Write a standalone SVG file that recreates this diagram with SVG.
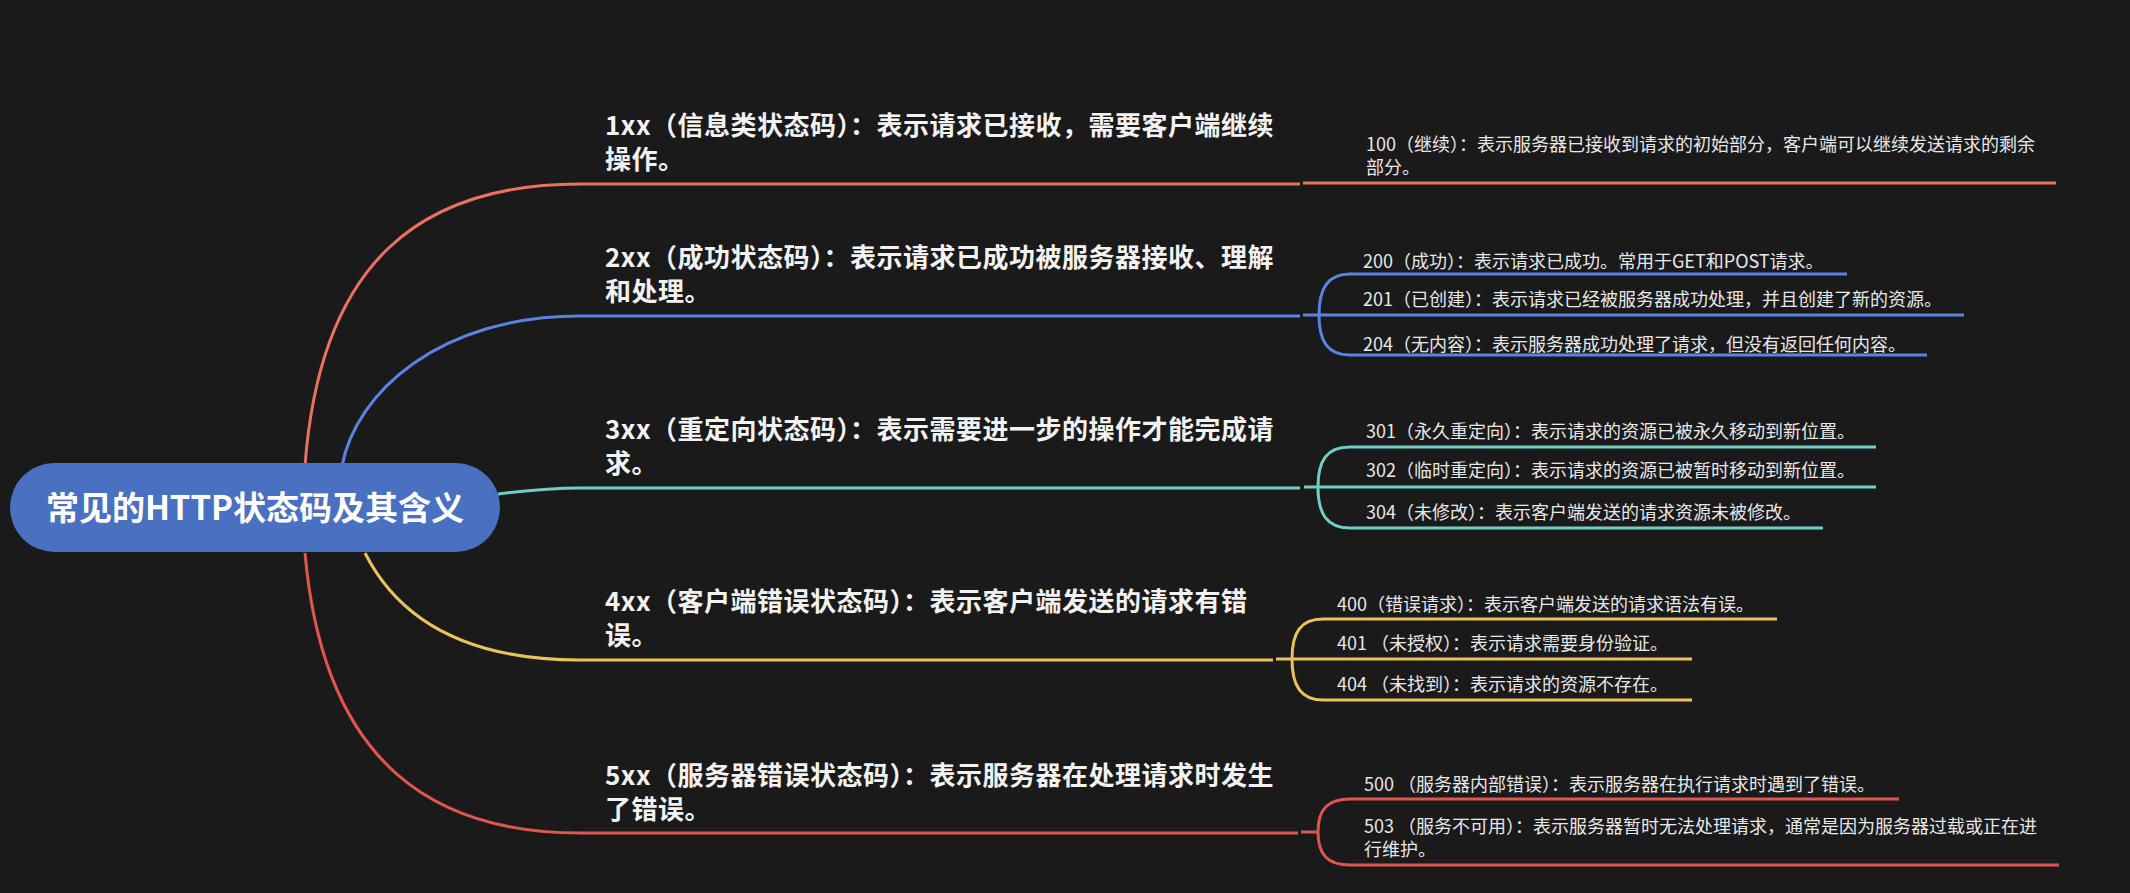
<svg xmlns="http://www.w3.org/2000/svg" width="2130" height="893" viewBox="0 0 2130 893">
<style>
  .bg{fill:#1a1a1a}
  .root-box{fill:#4a70c2}
  .root-t{font-family:"Noto Sans CJK SC","Noto Sans",sans-serif;font-size:33px;font-weight:700;fill:#ffffff}
  .p-t{font-family:"Noto Sans CJK SC","Noto Sans",sans-serif;font-size:26px;font-weight:700;fill:#f2f2f2;letter-spacing:0.5px}
  .c-t{font-family:"Noto Sans CJK SC","Noto Sans",sans-serif;font-size:18px;font-weight:400;fill:#e8e8e8}
  .ln{fill:none;stroke-width:3;stroke-linecap:butt}
  .c1{stroke:#e8735f}
  .c2{stroke:#5b83e3}
  .c3{stroke:#6fcfc5}
  .c4{stroke:#eac35a}
  .c5{stroke:#e0564f}
</style>
<rect class="bg" x="0" y="0" width="2130" height="893"/>
<g id="connectors">
  <path class="ln c1" d="M305,466 C320,262 420,184 580,184 L1300,184"/>
  <path class="ln c2" d="M342,466 C356,392 440,316 580,316 L1300,316"/>
  <path class="ln c3" d="M498,494 C530,490 550,488 580,488 L1300,488"/>
  <path class="ln c4" d="M365,553 C400,622 470,660 580,660 L1273,660"/>
  <path class="ln c5" d="M305,553 C324,770 440,833 580,833 L1298,833"/>

  <path class="ln c1" d="M1303,183 L2056,183"/>

  <path class="ln c2" d="M1319,315 C1319,288 1328,274 1350,274 L1847,274"/>
  <path class="ln c2" d="M1303,315 L1964,315"/>
  <path class="ln c2" d="M1319,315 C1319,342 1328,355 1350,355 L1927,355"/>

  <path class="ln c3" d="M1318,487 C1318,460 1327,447 1350,447 L1876,447"/>
  <path class="ln c3" d="M1304,487 L1876,487"/>
  <path class="ln c3" d="M1318,487 C1318,514 1327,528 1350,528 L1823,528"/>

  <path class="ln c4" d="M1292,659 C1292,632 1301,619 1323,619 L1777,619"/>
  <path class="ln c4" d="M1276,659 L1692,659"/>
  <path class="ln c4" d="M1292,659 C1292,686 1301,700 1323,700 L1692,700"/>

  <path class="ln c5" d="M1301,832 L1318,832"/>
  <path class="ln c5" d="M1318,832 C1318,810 1327,799 1350,799 L1899,799"/>
  <path class="ln c5" d="M1318,832 C1318,854 1327,865 1350,865 L2059,865"/>
</g>
<g id="root">
  <rect class="root-box" x="10" y="463" width="490" height="89" rx="44.5"/>
  <text class="root-t" x="255" y="520" text-anchor="middle">常见的HTTP状态码及其含义</text>
</g>
<g id="n1xx">
  <text class="p-t" x="605" y="135">1xx（信息类状态码）：表示请求已接收，需要客户端继续<tspan x="605" dy="34">操作。</tspan></text>
</g>
<g id="n2xx">
  <text class="p-t" x="605" y="267">2xx（成功状态码）：表示请求已成功被服务器接收、理解<tspan x="605" dy="34">和处理。</tspan></text>
</g>
<g id="n3xx">
  <text class="p-t" x="605" y="439">3xx（重定向状态码）：表示需要进一步的操作才能完成请<tspan x="605" dy="34">求。</tspan></text>
</g>
<g id="n4xx">
  <text class="p-t" x="605" y="611">4xx（客户端错误状态码）：表示客户端发送的请求有错<tspan x="605" dy="34">误。</tspan></text>
</g>
<g id="n5xx">
  <text class="p-t" x="605" y="785">5xx（服务器错误状态码）：表示服务器在处理请求时发生<tspan x="605" dy="34">了错误。</tspan></text>
</g>
<g id="n100">
  <text class="c-t" x="1366" y="151">100（继续）：表示服务器已接收到请求的初始部分，客户端可以继续发送请求的剩余<tspan x="1366" dy="23">部分。</tspan></text>
</g>
<g id="n200"><text class="c-t" x="1363" y="268">200（成功）：表示请求已成功。常用于GET和POST请求。</text></g>
<g id="n201"><text class="c-t" x="1363" y="306">201（已创建）：表示请求已经被服务器成功处理，并且创建了新的资源。</text></g>
<g id="n204"><text class="c-t" x="1363" y="351">204（无内容）：表示服务器成功处理了请求，但没有返回任何内容。</text></g>
<g id="n301"><text class="c-t" x="1366" y="438">301（永久重定向）：表示请求的资源已被永久移动到新位置。</text></g>
<g id="n302"><text class="c-t" x="1366" y="477">302（临时重定向）：表示请求的资源已被暂时移动到新位置。</text></g>
<g id="n304"><text class="c-t" x="1366" y="519">304（未修改）：表示客户端发送的请求资源未被修改。</text></g>
<g id="n400"><text class="c-t" x="1337" y="611">400（错误请求）：表示客户端发送的请求语法有误。</text></g>
<g id="n401"><text class="c-t" x="1337" y="650">401 （未授权）：表示请求需要身份验证。</text></g>
<g id="n404"><text class="c-t" x="1337" y="691">404 （未找到）：表示请求的资源不存在。</text></g>
<g id="n500"><text class="c-t" x="1364" y="791">500 （服务器内部错误）：表示服务器在执行请求时遇到了错误。</text></g>
<g id="n503">
  <text class="c-t" x="1364" y="833">503 （服务不可用）：表示服务器暂时无法处理请求，通常是因为服务器过载或正在进<tspan x="1364" dy="23">行维护。</tspan></text>
</g>
</svg>
